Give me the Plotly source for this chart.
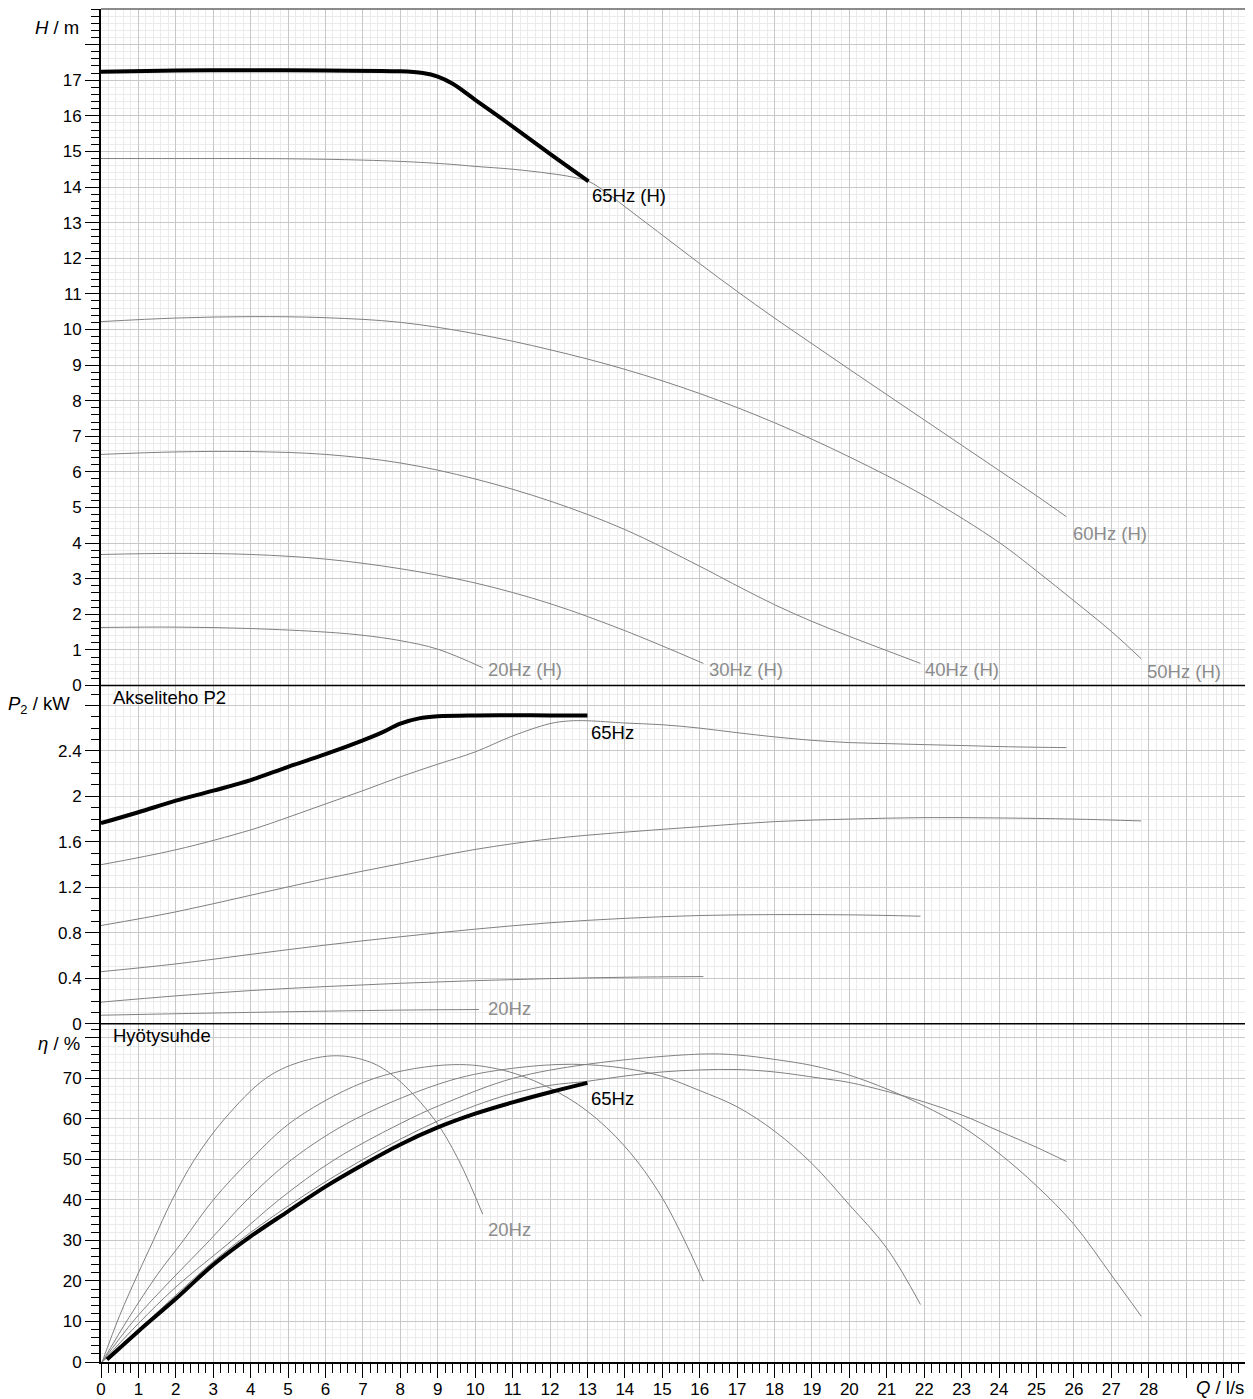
import plotly.graph_objects as go
from plotly.subplots import make_subplots

# ---------------- data ----------------
# Head H / m
q_h65 = [0, 2, 4, 6, 8, 8.6, 9.0, 9.4, 10, 11, 12, 13.03]
h_65 = [17.24, 17.27, 17.28, 17.27, 17.25, 17.2, 17.1, 16.9, 16.45, 15.7, 14.93, 14.16]
q_h60 = [0, 2, 4, 6, 8, 9.33, 10, 11, 12, 12.6, 13.03, 13.5, 14, 15, 16, 17, 18, 19, 20, 21, 22, 23, 24, 25, 25.8]
h_60 = [14.8, 14.8, 14.8, 14.78, 14.72, 14.64, 14.58, 14.5, 14.38, 14.28, 14.16, 13.85, 13.45, 12.65, 11.85, 11.07,
        10.32, 9.6, 8.88, 8.17, 7.46, 6.75, 6.04, 5.33, 4.74]
q_h50 = [0, 2, 4, 6, 8, 10, 12, 14, 16, 18, 20, 22, 24, 25, 26, 27, 27.8]
h_50 = [10.22, 10.32, 10.36, 10.33, 10.2, 9.88, 9.43, 8.88, 8.2, 7.38, 6.42, 5.33, 4.02, 3.22, 2.38, 1.52, 0.75]
q_h40 = [0, 2, 4, 6, 8, 10, 12, 14, 16, 17, 18, 19, 20, 21, 21.9]
h_40 = [6.49, 6.56, 6.57, 6.49, 6.25, 5.8, 5.18, 4.38, 3.35, 2.8, 2.27, 1.8, 1.38, 0.98, 0.62]
q_h30 = [0, 2, 4, 6, 8, 10, 12, 14, 16.1]
h_30 = [3.68, 3.71, 3.68, 3.55, 3.28, 2.88, 2.3, 1.54, 0.62]
q_h20 = [0, 2, 4, 6, 7, 8, 9, 10.2]
h_20 = [1.63, 1.64, 1.6, 1.5, 1.41, 1.26, 1.02, 0.5]

# Shaft power P2 / kW
q_p65 = [0, 1, 2, 3, 4, 5, 6, 7, 7.5, 8, 8.5, 9, 10, 11, 12, 13]
p_65 = [1.764, 1.86, 1.962, 2.05, 2.143, 2.26, 2.371, 2.493, 2.56, 2.64, 2.686, 2.704, 2.712, 2.713, 2.712, 2.712]
q_p60 = [0, 2, 4, 5, 6, 7, 8, 9, 10, 11, 12, 12.5, 13, 14, 15, 16, 17, 18, 19, 20, 21, 22, 23, 24, 25, 25.8]
p_60 = [1.399, 1.53, 1.705, 1.816, 1.933, 2.05, 2.172, 2.283, 2.391, 2.531, 2.64, 2.663, 2.665, 2.645, 2.63, 2.6,
        2.56, 2.523, 2.493, 2.473, 2.464, 2.455, 2.447, 2.438, 2.432, 2.429]
q_p50 = [0, 2, 4, 6, 8, 10, 12, 14, 16, 18, 20, 22, 24, 26, 27.8]
p_50 = [0.864, 0.984, 1.13, 1.276, 1.407, 1.533, 1.626, 1.685, 1.733, 1.778, 1.8, 1.813, 1.81, 1.8, 1.784]
q_p40 = [0, 2, 4, 6, 8, 10, 12, 14, 16, 18, 20, 21.9]
p_40 = [0.458, 0.526, 0.61, 0.692, 0.765, 0.832, 0.888, 0.927, 0.952, 0.96, 0.958, 0.946]
q_p30 = [0, 2, 4, 6, 8, 10, 12, 14, 16.1]
p_30 = [0.19, 0.245, 0.292, 0.327, 0.356, 0.379, 0.397, 0.409, 0.415]
q_p20 = [0, 4, 8, 10.1]
p_20 = [0.075, 0.1, 0.12, 0.125]

# Efficiency eta / %
q_e20 = [0.03, 0.5, 1.0, 1.4, 1.9, 2.5, 3.3, 4.4, 5.3, 6.3, 7.2, 7.9, 8.9, 9.55, 10.2]
e_20 = [0, 11.5, 22, 30, 40, 50, 60, 70, 74, 75.6, 74, 70, 60, 50, 36.5]
q_e30 = [0.03, 0.75, 1.5, 2.2, 3.0, 4.0, 5.2, 7.3, 9.4, 10.76, 12, 13, 14, 15, 16.1]
e_30 = [0, 11, 21.5, 30, 40, 50, 60, 70, 73.4, 72, 67.6, 61.9, 53.2, 40.5, 19.9]
q_e40 = [0.03, 0.9, 1.9, 2.9, 3.9, 5.1, 6.8, 9.33, 11, 12.6, 14, 15, 16, 17, 18, 19, 20, 21, 21.9]
e_40 = [0, 10.5, 20.5, 30, 40, 50, 60, 69.5, 72.5, 73.5, 72.5, 70.5, 67, 63, 57, 49, 38.8, 28.1, 14.2]
q_e50 = [0.03, 1, 2, 3.5, 4.75, 6.25, 8.25, 9.33, 11, 13, 16, 17, 18, 19, 20, 21, 22, 23, 24, 25, 26, 27, 27.8]
e_50 = [0, 9.5, 18.5, 30, 40, 50, 60, 64.4, 70, 73.5, 76, 75.8, 74.7, 73.2, 70.8, 67.4, 63.2, 58.2, 51.5, 43.5,
        34, 21.5, 11.3]
q_e60 = [0.03, 1, 2, 3, 4, 5, 6, 7, 8, 9, 10, 11, 12, 13, 14, 15, 16, 17, 18, 19.2, 20, 21, 22, 23, 24, 25, 25.8]
e_60 = [0, 8, 16.5, 24.8, 32, 38.5, 44.5, 50, 55, 59.5, 63.3, 66.3, 68.3, 69.3, 70.6, 71.6, 72.1, 72.2, 71.6, 70.1,
        69, 66.8, 64.2, 61, 57, 53, 49.5]
q_e65 = [0.16, 1, 2, 3, 4, 5, 6, 7, 8, 9, 10, 11, 12, 13]
e_65 = [0.6, 7.6, 15.6, 24, 31, 37.2, 43.3, 48.7, 53.7, 57.9, 61.3, 64.1, 66.6, 68.9]

# tick labels
x_tickvals = list(range(0, 31))
x_ticktext = [str(v) for v in range(0, 29)] + [" ", " "]
h_tickvals = list(range(0, 19))
h_ticktext = [str(v) for v in range(0, 18)] + [" "]
p_tickvals = [0, 0.4, 0.8, 1.2, 1.6, 2.0, 2.4, 2.8]
p_ticktext = ["0", "0.4", "0.8", "1.2", "1.6", "2", "2.4", " "]
e_tickvals = [0, 10, 20, 30, 40, 50, 60, 70, 80]
e_ticktext = ["0", "10", "20", "30", "40", "50", "60", "70", " "]

# ---------------- styling ----------------
GRAY = "#808080"
LABEL_GRAY = "#8c8c8c"
MAJOR_GRID = "#c8c8c8"
MINOR_GRID = "#ebebeb"
FONT = "Liberation Sans, Arial, sans-serif"
# the page adds an 8px body margin, so the figure is 8px smaller than the window
OFF = 8
W, H = 1253 - OFF, 1399 - OFF
ML, MR, MT, MB = 101 - OFF, 7, 1, 37
PW, PH = W - ML - MR, H - MT - MB

fig = make_subplots(rows=3, cols=1, shared_xaxes=True, vertical_spacing=0,
                    row_heights=[0.5, 0.25, 0.25])


def add(q, v, row, thick=False):
    fig.add_trace(go.Scatter(
        x=q, y=v, mode="lines",
        line=dict(color="black" if thick else GRAY, width=4 if thick else 1, shape="spline", smoothing=1.0),
        showlegend=False, hoverinfo="skip"), row=row, col=1)


for q, v in [(q_h20, h_20), (q_h30, h_30), (q_h40, h_40), (q_h50, h_50), (q_h60, h_60)]:
    add(q, v, 1)
add(q_h65, h_65, 1, True)
for q, v in [(q_p20, p_20), (q_p30, p_30), (q_p40, p_40), (q_p50, p_50), (q_p60, p_60)]:
    add(q, v, 2)
add(q_p65, p_65, 2, True)
for q, v in [(q_e20, e_20), (q_e30, e_30), (q_e40, e_40), (q_e50, e_50), (q_e60, e_60)]:
    add(q, v, 3)
add(q_e65, e_65, 3, True)

# ---------------- axes ----------------
for r in (1, 2, 3):
    bottom = (r == 3)
    fig.update_xaxes(
        row=r, col=1, range=[0, 30.6], tickmode="array", tickvals=x_tickvals,
        ticktext=x_ticktext, showticklabels=bottom, automargin=False,
        ticks="outside" if bottom else "", ticklen=14, tickcolor="black", tickwidth=1,
        ticklabelstandoff=-3,
        showgrid=True, gridcolor=MAJOR_GRID, gridwidth=1,
        minor=dict(dtick=0.2, tick0=0, ticks="outside" if bottom else "", ticklen=9,
                   tickcolor="black", showgrid=True, gridcolor=MINOR_GRID, gridwidth=1),
        showline=bottom, linecolor="black", linewidth=2, mirror=False,
        zeroline=False, tickfont=dict(family=FONT, size=17, color="black"))

yspecs = [
    (1, [0, 19], h_tickvals, h_ticktext, 0.2),
    (2, [0, 2.975], p_tickvals, p_ticktext, 0.1),
    (3, [0, 83.5], e_tickvals, e_ticktext, 2),
]
for r, rng, tv, tt, mdt in yspecs:
    fig.update_yaxes(
        row=r, col=1, range=rng, tickmode="array", tickvals=tv, ticktext=tt, automargin=False,
        ticks="outside", ticklen=14, tickcolor="black", tickwidth=1,
        showgrid=True, gridcolor=MAJOR_GRID, gridwidth=1,
        minor=dict(dtick=mdt, tick0=0, ticks="outside", ticklen=8, tickcolor="black",
                   showgrid=True, gridcolor=MINOR_GRID, gridwidth=1),
        showline=True, linecolor="black", linewidth=2, mirror=False, zeroline=False,
        tickfont=dict(family=FONT, size=17, color="black"))

# frame and panel separators
shapes = [
    dict(type="line", xref="paper", yref="paper", x0=0, x1=1, y0=1, y1=1, line=dict(color="#666666", width=1.5)),
    dict(type="line", xref="paper", yref="paper", x0=1, x1=1, y0=0, y1=1, line=dict(color="black", width=1.5)),
    dict(type="line", xref="paper", yref="paper", x0=0, x1=1, y0=0.5, y1=0.5, line=dict(color="black", width=1.5)),
    dict(type="line", xref="paper", yref="paper", x0=0, x1=1, y0=0.25, y1=0.25, line=dict(color="black", width=1.5)),
]

# ---------------- annotations ----------------
ann = []


def label(text, x, y, xref, yref, color, xs, ys):
    ann.append(dict(text=text, x=x, y=y, xref=xref, yref=yref, showarrow=False,
                    xanchor="left", yanchor="middle", xshift=xs, yshift=ys,
                    font=dict(family=FONT, size=18.5, color=color)))


label("65Hz (H)", q_h65[-1], h_65[-1], "x", "y", "black", 1, -14)
label("60Hz (H)", q_h60[-1], h_60[-1], "x", "y", LABEL_GRAY, 5, -17)
label("50Hz (H)", q_h50[-1], h_50[-1], "x", "y", LABEL_GRAY, 4, -13)
label("40Hz (H)", q_h40[-1], h_40[-1], "x", "y", LABEL_GRAY, 3, -6)
label("30Hz (H)", q_h30[-1], h_30[-1], "x", "y", LABEL_GRAY, 4, -6)
label("20Hz (H)", q_h20[-1], h_20[-1], "x", "y", LABEL_GRAY, 3, -2)
label("65Hz", q_p65[-1], p_65[-1], "x2", "y2", "black", 2, -17)
label("20Hz", q_p20[-1], p_20[-1], "x2", "y2", LABEL_GRAY, 7, 1)
label("65Hz", q_e65[-1], e_65[-1], "x3", "y3", "black", 2, -16)
label("20Hz", q_e20[-1], e_20[-1], "x3", "y3", LABEL_GRAY, 3, -15)


def px_ann(text, x, yc, anchor="right"):
    # x, yc are window pixel positions
    ann.append(dict(text=text, x=(x - OFF - ML) / PW, y=(H - MB - (yc - OFF)) / PH, xref="paper", yref="paper",
                    xanchor=anchor, yanchor="middle", showarrow=False,
                    font=dict(family=FONT, size=18.5, color="black")))


# panel titles
px_ann("Akseliteho P2", 111, 697, "left")
px_ann("Hyötysuhde", 111, 1035, "left")
# axis titles
px_ann("<i>H</i> / m", 81, 28)
px_ann("<i>P</i><sub>2</sub> / kW", 72, 705)
px_ann("<i>η</i> / %", 82, 1043)
px_ann("<i>Q</i> / l/s", 1246, 1387)

fig.update_layout(
    template="none",
    width=W, height=H, margin=dict(l=ML, r=MR, t=MT, b=MB, autoexpand=False),
    paper_bgcolor="white", plot_bgcolor="white", showlegend=False,
    font=dict(family=FONT, size=17, color="black"),
    annotations=ann, shapes=shapes)

fig.write_html("out.html")
